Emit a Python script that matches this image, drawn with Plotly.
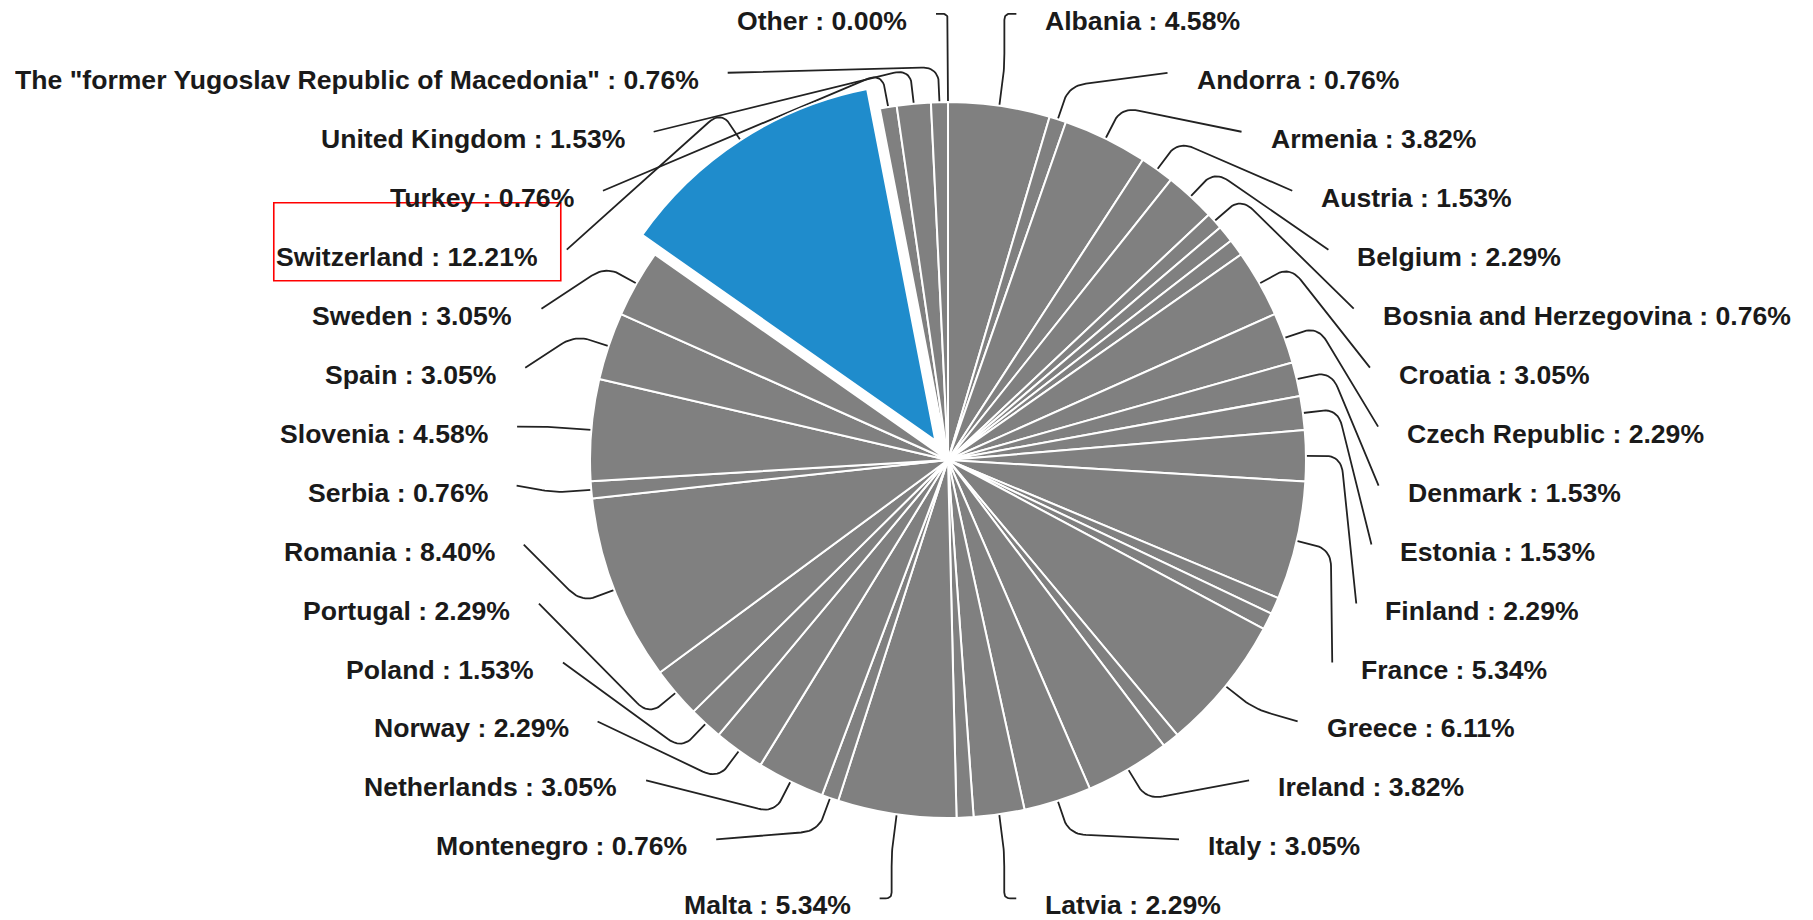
import math
import plotly.graph_objects as go

# ---------------- data ----------------
countries = [
    "Albania", "Andorra", "Armenia", "Austria", "Belgium", "Bosnia and Herzegovina",
    "(unlabelled 1)", "(unlabelled 2)", "Croatia", "Czech Republic", "Denmark", "Estonia",
    "Finland", "France", "(unlabelled 3)", "(unlabelled 4)", "Greece", "(unlabelled 5)",
    "Ireland", "Italy", "Latvia", "(unlabelled 6)", "Malta", "Montenegro", "Netherlands",
    "Norway", "Poland", "Portugal", "Romania", "Serbia", "Slovenia", "Spain", "Sweden",
    "Switzerland", "Turkey", "United Kingdom",
    'The "former Yugoslav Republic of Macedonia"', "Other",
]
shares = [
    4.58, 0.76, 3.82, 1.53, 2.29, 0.76,
    0.76, 0.76, 3.05, 2.29, 1.53, 1.53,
    2.29, 5.34, 0.76, 0.76, 6.11, 0.76,
    3.82, 3.05, 2.29, 0.76, 5.34, 0.76, 3.05,
    2.29, 1.53, 2.29, 8.40, 0.76, 4.58, 3.05, 3.05,
    12.21, 0.76, 1.53,
    0.76, 0.00,
]
unlabelled = ["(unlabelled 1)", "(unlabelled 2)", "(unlabelled 3)",
              "(unlabelled 4)", "(unlabelled 5)", "(unlabelled 6)"]
highlight = "Switzerland"

# ---------------- layout constants (pixels of the 1813x920 page) ----------------
FIG_W, FIG_H = 1813, 920
CX, CY = 948.0, 460.0          # pie centre
R = 358.0                      # pie radius
PULL = 0.065                   # pull of highlighted slice
EXT = 35.0                     # radial part of leader line
GAP = 28.0                     # gap between leader end and text
DY_LINE = -7.0                 # leader end relative to text middle
ROW_TOP, ROW_BOTTOM = 20.8, 905.4
LCX, LCY, LR = 947.6, 466.9, 459.7   # circle on which label edges sit
GREY, BLUE = "#808080", "#1f8ccc"
FONT = "Liberation Sans, Arial, sans-serif"
FONT_SIZE = 26.6

total = sum(shares)

# ---------------- pie ----------------
box = 2 * R * (1 + PULL)
dom_x = [(CX - box / 2) / FIG_W, (CX + box / 2) / FIG_W]
dom_y = [1 - (CY + box / 2) / FIG_H, 1 - (CY - box / 2) / FIG_H]

fig = go.Figure()
fig.add_trace(go.Pie(
    labels=countries, values=shares, sort=False, direction="clockwise", rotation=0,
    pull=[PULL if c == highlight else 0 for c in countries],
    marker=dict(colors=[BLUE if c == highlight else GREY for c in countries],
                line=dict(color="white", width=2)),
    textinfo="none", hoverinfo="label+percent", showlegend=False,
    domain=dict(x=dom_x, y=dom_y),
))


# ---------------- leader lines and labels ----------------
def rounded(pts, corner=18.0, n=12):
    out = [pts[0]]
    for i in range(1, len(pts) - 1):
        p0, p1, p2 = pts[i - 1], pts[i], pts[i + 1]
        l1 = math.hypot(p1[0] - p0[0], p1[1] - p0[1])
        l2 = math.hypot(p2[0] - p1[0], p2[1] - p1[1])
        c = min(corner, 0.5 * l1, 0.5 * l2)
        if c <= 1e-6:
            out.append(p1)
            continue
        a = (p1[0] + (p0[0] - p1[0]) * c / l1, p1[1] + (p0[1] - p1[1]) * c / l1)
        b = (p1[0] + (p2[0] - p1[0]) * c / l2, p1[1] + (p2[1] - p1[1]) * c / l2)
        for k in range(n + 1):
            t = k / n
            out.append(((1 - t) ** 2 * a[0] + 2 * (1 - t) * t * p1[0] + t * t * b[0],
                        (1 - t) ** 2 * a[1] + 2 * (1 - t) * t * p1[1] + t * t * b[1]))
    out.append(pts[-1])
    return out


slices = []
cum = 0.0
for name, v in zip(countries, shares):
    mid = (cum + v / 2) / total * 360.0
    cum += v
    slices.append((name, v, mid))

right = [s for s in slices if s[0] not in unlabelled and s[2] < 180]
left = [s for s in slices if s[0] not in unlabelled and s[2] >= 180][::-1]

line_x, line_y = [], []
annotations = []
shapes = []


def place(side_list, sign):
    n = len(side_list)
    step = (ROW_BOTTOM - ROW_TOP) / (n - 1)
    for i, (name, v, mid) in enumerate(side_list):
        y = ROW_TOP + i * step
        th = math.radians(mid)
        dx, dy = math.sin(th), -math.cos(th)
        off = PULL * R if name == highlight else 0.0
        s = (CX + (R + off) * dx, CY + (R + off) * dy)
        p1 = (s[0] + EXT * dx, s[1] + EXT * dy)
        ey = y + DY_LINE
        if abs(y - CY) > R + EXT:
            ex = p1[0] + sign * 12.0
            pts = [s, p1, (p1[0], ey), (ex, ey)]
        else:
            edge = LCX + sign * math.sqrt(max(LR ** 2 - (y - LCY) ** 2, 0.0))
            ex = edge - sign * GAP
            pts = [s, p1, (ex, ey)]
        edge_x = ex + sign * GAP
        path = rounded(pts)
        line_x.extend([p[0] for p in path] + [None])
        line_y.extend([p[1] for p in path] + [None])
        annotations.append(dict(
            x=edge_x, y=y, xref="x", yref="y", showarrow=False,
            xanchor="left" if sign > 0 else "right", yanchor="middle",
            height=28, valign="middle", borderpad=0,
            text="<b>%s : %.2f%%</b>" % (name, v),
            font=dict(family=FONT, size=FONT_SIZE, color="#1a1a1a"),
        ))
        if name == highlight:
            shapes.append(dict(
                type="rect", xref="x", yref="y",
                x0=edge_x - 265, x1=edge_x + 22, y0=y - 54, y1=y + 24,
                line=dict(color="#ff0000", width=1.6), fillcolor="rgba(0,0,0,0)",
            ))


place(right, +1)
place(left, -1)

fig.add_trace(go.Scatter(
    x=line_x, y=line_y, mode="lines", hoverinfo="skip", showlegend=False,
    line=dict(color="#222222", width=1.8),
))

fig.update_layout(
    width=FIG_W, height=FIG_H,
    margin=dict(l=0, r=0, t=0, b=0),
    paper_bgcolor="white", plot_bgcolor="rgba(0,0,0,0)",
    xaxis=dict(range=[0, FIG_W], visible=False, fixedrange=True),
    yaxis=dict(range=[FIG_H, 0], visible=False, fixedrange=True),
    annotations=annotations, shapes=shapes, showlegend=False,
)

fig.write_html(
    "out.html",
    config={"displayModeBar": False},
    post_script=("document.documentElement.style.margin='0';"
                 "document.body.style.margin='0';"
                 "document.documentElement.style.overflow='hidden';"
                 "document.body.style.overflow='hidden';"),
)
